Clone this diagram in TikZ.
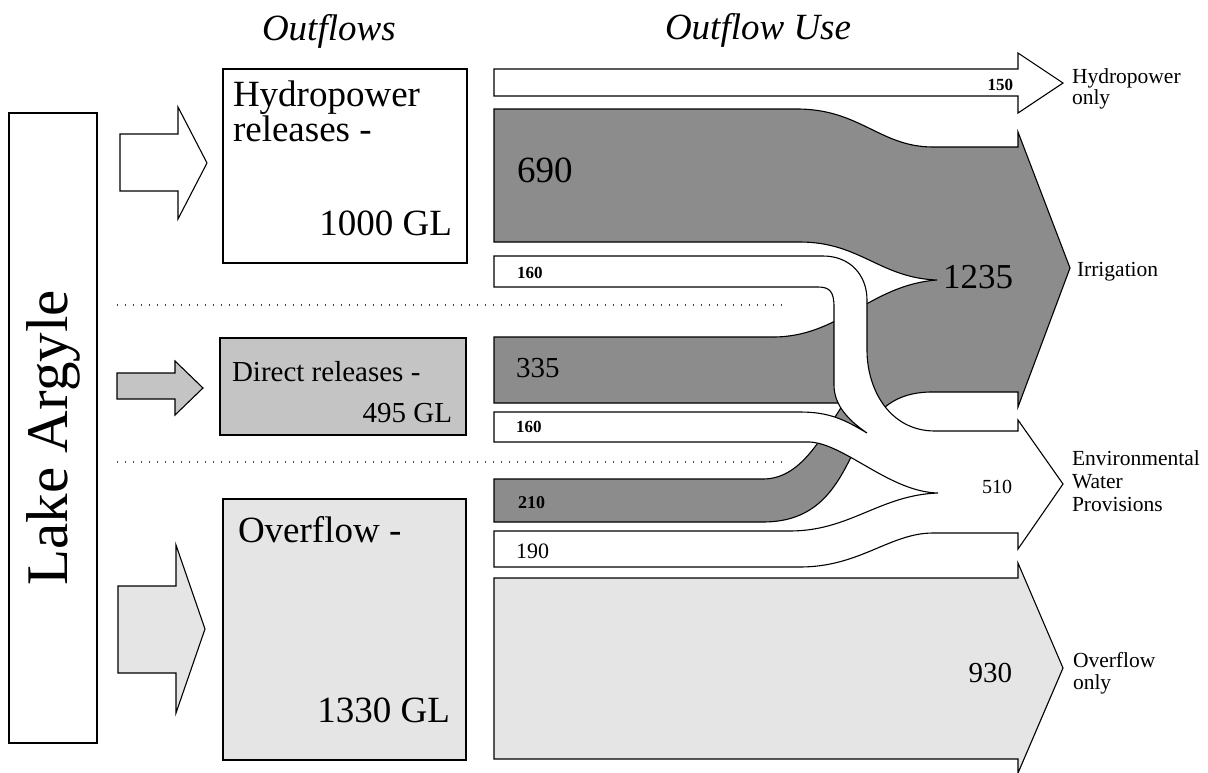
\documentclass[tikz,border=0pt]{standalone}
\usepackage{fontspec}
\setmainfont{Liberation Serif}
\definecolor{flowdark}{gray}{0.55}
\definecolor{flowmid}{gray}{0.77}
\definecolor{flowlight}{gray}{0.90}
\newcommand{\fsz}[1]{\fontsize{#1}{#1}\selectfont}
\begin{document}
\begin{tikzpicture}[x=1pt,y=-1pt,
  edge/.style={draw=black,line width=1.1pt,line join=miter},
  txt/.style={inner sep=0pt,outer sep=0pt},
  sep/.style={draw=black!70,line width=1.1pt,dash pattern=on 1.1pt off 6.9pt}]
\useasboundingbox (0,0) rectangle (1208,772);
\fill[white] (0,0) rectangle (1208,772);

% column headings
\node[txt,anchor=base west,font=\fsz{37}\itshape] (hOut) at (262,40) {Outflows};
\node[txt,anchor=base west,font=\fsz{37}\itshape] (hUse) at (665,39) {Outflow Use};

% the lake
\draw[edge,fill=white] (9,113) rectangle (97,743);
\node[txt,rotate=90,anchor=base,font=\fsz{59}] (lake) at (67,438) {Lake Argyle};

% inflow arrows from the lake
\draw[edge,fill=white] (120,134) -- (178,134) -- (178,107) -- (207,163) -- (178,219) -- (178,191) -- (120,191) -- cycle;
\draw[edge,fill=flowmid] (117,373) -- (175,373) -- (175,361) -- (203,388) -- (175,415) -- (175,399) -- (117,399) -- cycle;
\draw[edge,fill=flowlight] (118,586) -- (176,586) -- (176,545) -- (205,629) -- (176,713) -- (176,673) -- (118,673) -- cycle;

% outflow boxes
\draw[edge,fill=white] (223,69) rectangle (467,263);
\draw[edge,fill=flowmid] (220,338) rectangle (466,435);
\draw[edge,fill=flowlight] (223,499) rectangle (466,760);

\node[txt,anchor=base west,font=\fsz{37}] (hpA) at (233,106) {Hydropower};
\node[txt,anchor=base west,font=\fsz{37}] (hpB) at (233,141) {releases -};
\node[txt,anchor=base east,font=\fsz{37}] (hpC) at (452,235) {1000 GL};
\node[txt,anchor=base west,font=\fsz{29}] (drA) at (232,381) {Direct releases -};
\node[txt,anchor=base east,font=\fsz{29}] (drB) at (452,422) {495 GL};
\node[txt,anchor=base west,font=\fsz{37}] (ovA) at (238,542) {Overflow -};
\node[txt,anchor=base east,font=\fsz{37}] (ovB) at (450,722) {1330 GL};

% separators between the three outflow rows
\draw[sep] (117,305) -- (785,305);
\draw[sep] (117,462) -- (785,462);

% hydropower only
\draw[edge,fill=white] (494,69) -- (1018,69) -- (1018,53) -- (1063,83) -- (1018,113) -- (1018,96) -- (494,96) -- cycle;

% overflow only
\draw[edge,fill=flowlight] (494,578) -- (1018,578) -- (1018,563) -- (1063,668) -- (1018,773) -- (1018,759) -- (494,759) -- cycle;

% irrigation: 690 + 335 + 210 merging into one arrow
\draw[edge,fill=flowdark] (494,109) -- (797,109) .. controls (860,109) and (880,147) .. (933,147)
  -- (1018,147) -- (1018,132) -- (1070,268) -- (1018,407) -- (1018,392) -- (930,392)
  .. controls (885,393) and (870,420) .. (852,455)
  .. controls (835,490) and (815,522) .. (763,522) -- (494,522) -- (494,479) -- (763,479)
  .. controls (800,479) and (820,440) .. (844,403) -- (494,403) -- (494,337) -- (773,337)
  .. controls (840,337) and (870,285) .. (937,280)
  .. controls (880,278) and (860,242) .. (800,242) -- (494,242) -- cycle;

% environmental water provisions: 160 + 160 + 190 merging into one arrow
\draw[edge,fill=white] (494,256) -- (823,256) .. controls (850,256) and (867,275) .. (867,300)
  -- (867,350) .. controls (867,390) and (890,431) .. (935,431) -- (1018,431) -- (1018,420)
  -- (1063,484) -- (1018,549) -- (1018,533) -- (933,533)
  .. controls (890,533) and (860,567) .. (800,567) -- (494,567) -- (494,531) -- (790,531)
  .. controls (850,531) and (880,495) .. (938,493)
  .. controls (890,492) and (845,444) .. (810,442) -- (494,442) -- (494,412) -- (800,412)
  .. controls (830,412) and (845,420) .. (867,433)
  .. controls (848,420) and (834,405) .. (834,385) -- (834,307)
  .. controls (834,292) and (830,287) .. (818,287) -- (494,287) -- cycle;

% flow quantities
\node[txt,anchor=base east,font=\fsz{17}\bfseries] (n150) at (1013,90) {150};
\node[txt,anchor=base west,font=\fsz{37}] (n690) at (517,182) {690};
\node[txt,anchor=base west,font=\fsz{17}\bfseries] (n160a) at (517,278) {160};
\node[txt,anchor=base west,font=\fsz{29}] (n335) at (516,377) {335};
\node[txt,anchor=base west,font=\fsz{17}\bfseries] (n160b) at (516,432) {160};
\node[txt,anchor=base west,font=\fsz{18}\bfseries] (n210) at (518,508) {210};
\node[txt,anchor=base west,font=\fsz{22}] (n190) at (516,558) {190};
\node[txt,anchor=base west,font=\fsz{35}] (n1235) at (943,288) {1235};
\node[txt,anchor=base east,font=\fsz{20}] (n510) at (1012,493) {510};
\node[txt,anchor=base east,font=\fsz{29}] (n930) at (1012,682) {930};

% use labels
\node[txt,anchor=base west,font=\fsz{21.5}] (tHydA) at (1072,83) {Hydropower};
\node[txt,anchor=base west,font=\fsz{21.5}] (tHydB) at (1072,104) {only};
\node[txt,anchor=base west,font=\fsz{21.5}] (tIrr) at (1077,276) {Irrigation};
\node[txt,anchor=base west,font=\fsz{21.5}] (tEnvA) at (1072,465) {Environmental};
\node[txt,anchor=base west,font=\fsz{21.5}] (tEnvB) at (1072,488) {Water};
\node[txt,anchor=base west,font=\fsz{21.5}] (tEnvC) at (1072,511) {Provisions};
\node[txt,anchor=base west,font=\fsz{21.5}] (tOvA) at (1073,667) {Overflow};
\node[txt,anchor=base west,font=\fsz{21.5}] (tOvB) at (1073,689) {only};
\end{tikzpicture}
\end{document}
